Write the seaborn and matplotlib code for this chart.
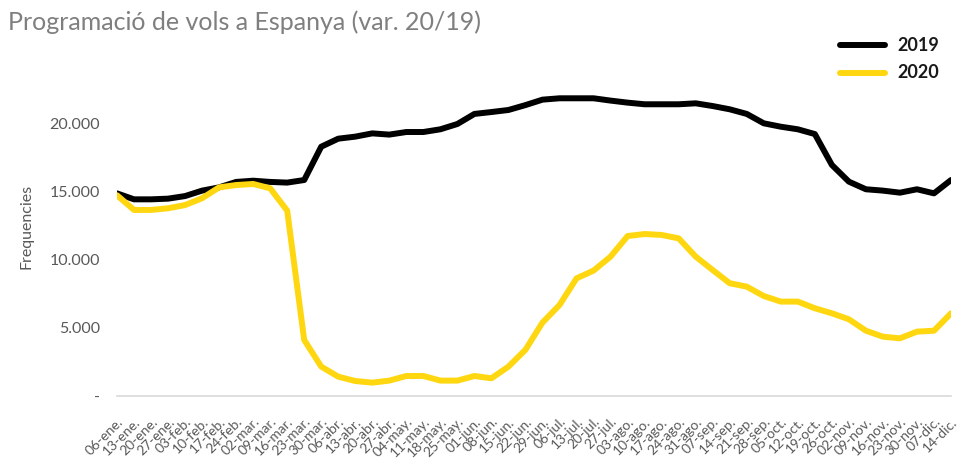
import pandas as pd
import seaborn as sns
import matplotlib.pyplot as plt
from matplotlib.ticker import FuncFormatter

# setmanes (dilluns) 2019/2020
setmanes = ["06-ene.", "13-ene.", "20-ene.", "27-ene.", "03-feb.", "10-feb.", "17-feb.", "24-feb.",
            "02-mar.", "09-mar.", "16-mar.", "23-mar.", "30-mar.", "06-abr.", "13-abr.", "20-abr.",
            "27-abr.", "04-may.", "11-may.", "18-may.", "25-may.", "01-jun.", "08-jun.", "15-jun.",
            "22-jun.", "29-jun.", "06-jul.", "13-jul.", "20-jul.", "27-jul.", "03-ago.", "10-ago.",
            "17-ago.", "24-ago.", "31-ago.", "07-sep.", "14-sep.", "21-sep.", "28-sep.", "05-oct.",
            "12-oct.", "19-oct.", "26-oct.", "02-nov.", "09-nov.", "16-nov.", "23-nov.", "30-nov.",
            "07-dic.", "14-dic."]

vols_2019 = [14900, 14460, 14460, 14510, 14700, 15100, 15340, 15740, 15830, 15740,
             15690, 15880, 18330, 18920, 19070, 19310, 19220, 19410, 19410, 19610,
             20000, 20740, 20880, 21030, 21390, 21790, 21890, 21890, 21890, 21720,
             21570, 21450, 21450, 21450, 21520, 21320, 21080, 20740, 20050, 19800,
             19610, 19260, 16990, 15760, 15200, 15100, 14950, 15200, 14900, 15880]

vols_2020 = [14760, 13680, 13680, 13800, 14040, 14540, 15340, 15510, 15590, 15270,
             13630, 4120, 2160, 1420, 1100, 980, 1130, 1470, 1470, 1130,
             1130, 1470, 1300, 2160, 3400, 5400, 6690, 8650, 9220, 10250,
             11760, 11910, 11840, 11590, 10250, 9260, 8290, 8040, 7350, 6940,
             6940, 6450, 6080, 5640, 4800, 4360, 4240, 4730, 4800, 6080]

df = pd.DataFrame({
    "setmana": list(range(len(setmanes))) * 2,
    "vols": vols_2019 + vols_2020,
    "any": ["2019"] * len(vols_2019) + ["2020"] * len(vols_2020),
})

sns.set_style("white")
plt.rcParams['font.family'] = ['Lato', 'DejaVu Sans']
gris = "#595959"

fig = plt.figure(figsize=(9.78, 4.62), dpi=100)
ax = fig.add_axes([0.1196, 0.1429, 0.8528, 0.7359])

sns.lineplot(data=df, x="setmana", y="vols", hue="any",
             palette={"2019": "#000000", "2020": "#FFD711"},
             linewidth=4.3, ax=ax, legend=False)

ax.set_xlim(0, len(setmanes) - 1)
ax.set_ylim(0, 25000)
ax.set_xticks(range(len(setmanes)))
ax.set_xticklabels(setmanes, rotation=45, ha="right", rotation_mode="anchor",
                   fontsize=10, color=gris)
ax.set_yticks([0, 5000, 10000, 15000, 20000])
ax.yaxis.set_major_formatter(FuncFormatter(
    lambda v, p: "-" if v == 0 else f"{int(v):,}".replace(",", ".")))
ax.tick_params(axis="y", labelsize=11.5, labelcolor=gris, length=0, pad=12)
ax.tick_params(axis="x", length=0, pad=14)
ax.set_xlabel("")
ax.set_ylabel("Frequencies", fontsize=11.5, color=gris, labelpad=12)

sns.despine(ax=ax, left=True)
ax.spines["bottom"].set_color("#d9d9d9")
ax.spines["bottom"].set_linewidth(1.2)

fig.text(0.008, 0.952, "Programació de vols a Espanya (var. 20/19)",
         fontsize=18, color="#7f7f7f", va="center", ha="left")

# llegenda manual a dalt a la dreta
for y, any_, col in [(0.902, "2019", "#000000"), (0.842, "2020", "#FFD711")]:
    fig.add_artist(plt.Line2D([0.859, 0.905], [y, y], color=col, linewidth=4.3))
    fig.text(0.918, y, any_, fontsize=13, fontweight="bold", color="#1a1a1a",
             va="center", ha="left")

fig.savefig("out.png", dpi=100)
